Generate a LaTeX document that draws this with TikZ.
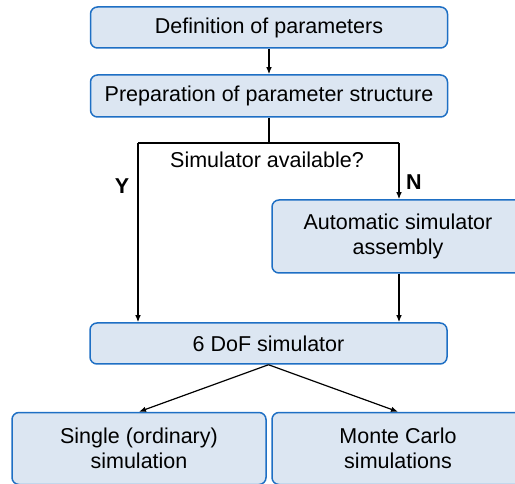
\documentclass[tikz,border=0pt]{standalone}
\usepackage{fontspec}
\setmainfont{Liberation Sans}
\usetikzlibrary{arrows.meta}
\definecolor{boxfill}{HTML}{DCE6F2}
\definecolor{boxline}{HTML}{1E6FC4}
\begin{document}
\begin{tikzpicture}[x=1pt,y=-1pt,
  box/.style={draw=boxline,fill=boxfill,line width=1.5pt,rounded corners=7pt,
    align=center,font=\fontsize{21.5}{25}\selectfont,inner sep=0pt},
  conn/.style={line width=1.2pt,-{Latex[length=7pt,width=5.5pt]}},
  plain/.style={line width=1.2pt},
  lbl/.style={font=\fontsize{21.5}{25}\selectfont,inner sep=0pt}]
\useasboundingbox (0,0) rectangle (515,484);
\node[box,minimum width=357pt,minimum height=41pt] (def) at (269,27.5) {Definition of parameters};
\node[box,minimum width=357pt,minimum height=42pt] (prep) at (269,96) {Preparation of parameter structure};
\node[box,minimum width=252pt,minimum height=73pt] (auto) at (398,236.5) {Automatic simulator\\assembly};
\node[box,minimum width=357pt,minimum height=41pt] (dof) at (268.5,343.5) {6 DoF simulator};
\node[box,minimum width=254pt,minimum height=72pt] (single) at (139,448.5) {Single (ordinary)\\simulation};
\node[box,minimum width=252pt,minimum height=72pt] (mc) at (398,448.5) {Monte Carlo\\simulations};
\node[lbl] (q) at (267,160) {Simulator available?};
\node[lbl,font=\fontsize{21.5}{25}\selectfont\bfseries] (y) at (122,186) {Y};
\node[lbl,font=\fontsize{21.5}{25}\selectfont\bfseries] (n) at (414,182) {N};
\coordinate (split) at (269,143);
\coordinate (lc) at (138,143);
\coordinate (rc) at (399,143);
\draw[conn] (def.south -| split) -- (prep.north -| split);
\draw[plain] (prep.south -| split) -- (split);
\draw[plain] (lc) -- (rc);
\draw[conn] (rc) -- (auto.north -| rc);
\draw[conn] (lc) -- (dof.north -| lc);
\draw[conn] (auto.south -| rc) -- (dof.north -| rc);
\draw[conn] (dof.south) -- (single.north);
\draw[conn] (dof.south) -- (mc.north);
\end{tikzpicture}
\end{document}
